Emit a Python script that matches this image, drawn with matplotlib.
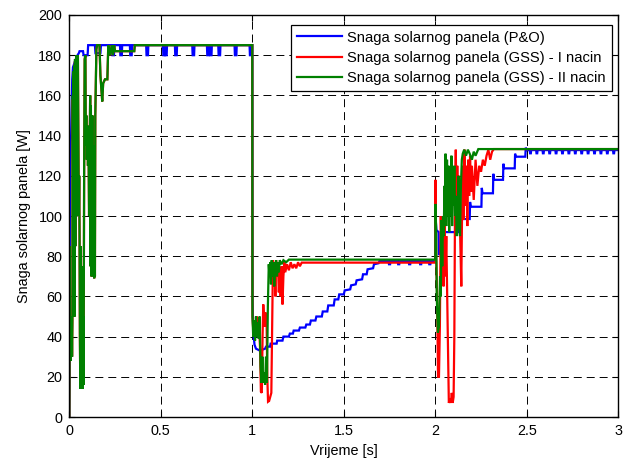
import matplotlib
matplotlib.use("Agg")
import matplotlib.pyplot as plt

plt.rcParams['font.family'] = ['Liberation Sans', 'DejaVu Sans']
plt.rcParams['font.size'] = 10.4

# ---------------- data (time [s], power [W]) ----------------
series_labels = ["Snaga solarnog panela (P&O)",
                 "Snaga solarnog panela (GSS) - I nacin",
                 "Snaga solarnog panela (GSS) - II nacin"]
series_colors = ["#0000ff", "#ff0000", "#008000"]

x_ticks = [0, 0.5, 1, 1.5, 2, 2.5, 3]
x_tick_labels = ["0", "0.5", "1", "1.5", "2", "2.5", "3"]
y_ticks = [0, 20, 40, 60, 80, 100, 120, 140, 160, 180, 200]

po = [
    (0.000, 0), (0.002, 70), (0.004, 125), (0.007, 137), (0.010, 140), (0.013, 155),
    (0.016, 168), (0.020, 174), (0.028, 176), (0.035, 178), (0.045, 180), (0.052, 181),
    (0.056, 182), (0.075, 182), (0.078, 180), (0.100, 180), (0.103, 185), (0.140, 185),
    (0.143, 181), (0.170, 181), (0.173, 185),
    (0.234, 185), (0.236, 180), (0.244, 180), (0.246, 185),
    (0.277, 185), (0.279, 180), (0.287, 180), (0.289, 185),
    (0.331, 185), (0.333, 180), (0.341, 180), (0.343, 185),
    (0.420, 185), (0.422, 180), (0.430, 180), (0.432, 185),
    (0.512, 185), (0.514, 180), (0.520, 180), (0.522, 185),
    (0.524, 185), (0.526, 180), (0.532, 180), (0.534, 185),
    (0.577, 185), (0.579, 180), (0.587, 180), (0.589, 185),
    (0.672, 185), (0.674, 180), (0.682, 180), (0.684, 185),
    (0.752, 185), (0.754, 180), (0.760, 180), (0.762, 185),
    (0.767, 185), (0.769, 180), (0.777, 180), (0.779, 185),
    (0.814, 185), (0.816, 180), (0.824, 180), (0.826, 185),
    (0.903, 185), (0.905, 180), (0.913, 180), (0.915, 185),
    (0.985, 185), (0.987, 180), (0.995, 180), (0.997, 185),
    (1.000, 185), (1.001, 60), (1.005, 43), (1.012, 36), (1.020, 34), (1.042, 33),
    (1.070, 34), (1.075, 35), (1.097, 35), (1.100, 36.5), (1.133, 36.5), (1.136, 38),
    (1.165, 38), (1.170, 40), (1.200, 40), (1.205, 41.5), (1.222, 41.5), (1.226, 43),
    (1.255, 43), (1.260, 44.5), (1.290, 44.5), (1.295, 46), (1.315, 46), (1.320, 48),
    (1.345, 48), (1.350, 50), (1.380, 50), (1.385, 52.5), (1.410, 52.5), (1.415, 55.5),
    (1.445, 55.5), (1.450, 58.5), (1.470, 58.5), (1.475, 61), (1.500, 61), (1.505, 63),
    (1.535, 63.5), (1.540, 65.5), (1.565, 66), (1.570, 68), (1.600, 68.5), (1.605, 71),
    (1.625, 71), (1.630, 73.5), (1.660, 74), (1.665, 76), (1.690, 76.5), (1.695, 77.5),
    (1.745, 77.5), (1.747, 76), (1.753, 76), (1.755, 77.5),
    (1.795, 77.5), (1.797, 76), (1.803, 76), (1.805, 77.5),
    (1.855, 77.5), (1.857, 76), (1.863, 76), (1.865, 77.5),
    (1.915, 77.5), (1.917, 76), (1.923, 76), (1.925, 77.5),
    (1.965, 77.5), (1.967, 76), (1.973, 76), (1.975, 77.5),
    (2.000, 77.5), (2.001, 100), (2.006, 93), (2.018, 92), (2.020, 81), (2.033, 81),
    (2.035, 92), (2.127, 92), (2.130, 98.5), (2.188, 98.5), (2.190, 107), (2.194, 104.6),
    (2.252, 104.6), (2.254, 114), (2.258, 111.3), (2.315, 111.3), (2.317, 121),
    (2.321, 118), (2.370, 118), (2.372, 126), (2.376, 123.7), (2.434, 123.7),
    (2.436, 131), (2.440, 129.5), (2.492, 129.5), (2.494, 134), (2.498, 132.8),
    (2.516, 132.8), (2.518, 131.2), (2.522, 131.2), (2.524, 132.8),
    (2.551, 132.8), (2.553, 131.2), (2.557, 131.2), (2.559, 132.8),
    (2.586, 132.8), (2.588, 131.2), (2.592, 131.2), (2.594, 132.8),
    (2.621, 132.8), (2.623, 131.2), (2.627, 131.2), (2.629, 132.8),
    (2.656, 132.8), (2.658, 131.2), (2.662, 131.2), (2.664, 132.8),
    (2.691, 132.8), (2.693, 131.2), (2.697, 131.2), (2.699, 132.8),
    (2.726, 132.8), (2.728, 131.2), (2.732, 131.2), (2.734, 132.8),
    (2.761, 132.8), (2.763, 131.2), (2.767, 131.2), (2.769, 132.8),
    (2.796, 132.8), (2.798, 131.2), (2.802, 131.2), (2.804, 132.8),
    (2.831, 132.8), (2.833, 131.2), (2.837, 131.2), (2.839, 132.8),
    (2.866, 132.8), (2.868, 131.2), (2.872, 131.2), (2.874, 132.8),
    (2.901, 132.8), (2.903, 131.2), (2.907, 131.2), (2.909, 132.8),
    (2.936, 132.8), (2.938, 131.2), (2.942, 131.2), (2.944, 132.8),
    (2.971, 132.8), (2.973, 131.2), (2.977, 131.2), (2.979, 132.8),
    (3.000, 132.8),
]

gss1 = [
    (0.000, 0), (0.003, 80), (0.004, 30), (0.008, 28), (0.010, 45), (0.013, 50),
    (0.015, 30), (0.017, 48), (0.019, 158), (0.021, 60), (0.023, 170), (0.025, 95),
    (0.027, 175), (0.029, 50), (0.031, 177), (0.033, 85), (0.035, 176), (0.037, 120),
    (0.039, 180), (0.041, 100), (0.043, 178), (0.045, 130), (0.047, 180), (0.050, 135),
    (0.052, 100), (0.054, 120), (0.056, 90), (0.058, 40), (0.060, 14), (0.062, 85),
    (0.064, 14), (0.066, 60), (0.068, 15), (0.070, 75), (0.072, 14), (0.075, 50),
    (0.078, 16), (0.081, 120), (0.084, 178), (0.088, 180), (0.090, 135), (0.093, 150),
    (0.096, 128), (0.099, 145), (0.102, 125), (0.105, 140), (0.108, 100), (0.111, 130),
    (0.114, 160), (0.116, 75), (0.118, 155), (0.120, 70), (0.122, 140), (0.124, 90),
    (0.126, 150), (0.128, 70), (0.130, 120), (0.132, 75), (0.134, 135), (0.136, 69),
    (0.138, 100), (0.140, 70), (0.142, 150), (0.145, 165), (0.148, 183), (0.152, 185),
    (0.165, 185), (0.170, 170), (0.180, 157), (0.185, 166), (0.195, 168), (0.208, 168),
    (0.213, 185), (0.222, 180), (0.232, 185), (0.238, 180), (0.245, 185), (0.250, 182),
    (0.355, 182), (0.358, 185), (1.000, 185),
    (1.001, 50), (1.006, 42), (1.012, 48), (1.018, 40), (1.024, 50), (1.030, 42),
    (1.036, 48), (1.042, 35), (1.047, 12.6), (1.052, 12), (1.056, 40), (1.060, 56),
    (1.066, 45), (1.072, 52), (1.078, 48), (1.082, 20), (1.086, 7.6), (1.092, 8),
    (1.098, 10), (1.104, 12), (1.108, 40), (1.113, 78), (1.118, 65), (1.122, 77),
    (1.126, 60), (1.130, 78), (1.135, 70), (1.140, 76), (1.145, 62), (1.150, 72),
    (1.155, 60), (1.160, 75), (1.165, 56), (1.170, 70), (1.175, 77), (1.180, 72),
    (1.190, 76), (1.200, 73), (1.210, 77), (1.220, 74), (1.230, 76), (1.240, 74),
    (1.250, 77), (1.260, 75), (1.270, 76.8), (2.000, 76.8),
    (2.001, 118), (2.005, 80), (2.010, 60), (2.015, 20), (2.020, 20), (2.025, 45),
    (2.030, 100), (2.035, 75), (2.040, 98), (2.045, 65), (2.050, 100), (2.055, 70),
    (2.060, 90), (2.065, 60), (2.070, 30), (2.074, 7), (2.080, 9), (2.085, 7),
    (2.090, 12), (2.095, 7), (2.100, 10), (2.104, 40), (2.108, 110), (2.112, 133),
    (2.116, 100), (2.120, 125), (2.125, 98), (2.130, 120), (2.136, 90), (2.142, 65),
    (2.146, 100), (2.150, 125), (2.155, 98), (2.160, 133), (2.165, 105), (2.170, 125),
    (2.175, 95), (2.180, 128), (2.185, 110), (2.190, 130), (2.195, 112), (2.200, 125),
    (2.210, 108), (2.220, 128), (2.230, 115), (2.240, 125), (2.250, 122), (2.260, 128),
    (2.270, 125), (2.280, 130), (2.290, 133), (2.300, 128), (2.310, 132), (2.320, 133.3),
    (3.000, 133.3),
]

gss2 = [
    (0.000, 0), (0.003, 85), (0.004, 30), (0.008, 28), (0.010, 45), (0.013, 50),
    (0.015, 30), (0.017, 48), (0.019, 160), (0.021, 60), (0.023, 172), (0.025, 95),
    (0.027, 175), (0.029, 50), (0.031, 178), (0.033, 85), (0.035, 176), (0.037, 120),
    (0.039, 180), (0.041, 100), (0.043, 178), (0.045, 130), (0.047, 180), (0.050, 135),
    (0.052, 100), (0.054, 120), (0.056, 90), (0.058, 40), (0.060, 14), (0.062, 85),
    (0.064, 14), (0.066, 60), (0.068, 15), (0.070, 75), (0.072, 14), (0.075, 50),
    (0.078, 16), (0.081, 120), (0.084, 178), (0.088, 180), (0.090, 135), (0.093, 150),
    (0.096, 128), (0.099, 145), (0.102, 125), (0.105, 140), (0.108, 100), (0.111, 130),
    (0.114, 160), (0.116, 75), (0.118, 155), (0.120, 70), (0.122, 140), (0.124, 90),
    (0.126, 150), (0.128, 70), (0.130, 120), (0.132, 75), (0.134, 135), (0.136, 69),
    (0.138, 100), (0.140, 70), (0.142, 150), (0.145, 165), (0.148, 183), (0.152, 185),
    (0.165, 185), (0.170, 170), (0.180, 157), (0.185, 166), (0.195, 168), (0.208, 168),
    (0.213, 185), (0.222, 180), (0.232, 185), (0.238, 180), (0.245, 185), (0.250, 182),
    (0.355, 182), (0.358, 185), (1.000, 185),
    (1.001, 50), (1.005, 40), (1.010, 48), (1.015, 38), (1.020, 50), (1.025, 40),
    (1.030, 47), (1.035, 39), (1.040, 50), (1.045, 25), (1.050, 17), (1.055, 30),
    (1.060, 17), (1.065, 22), (1.070, 16), (1.075, 30), (1.080, 17), (1.085, 55),
    (1.090, 76), (1.094, 70), (1.098, 77), (1.102, 66), (1.106, 78), (1.110, 70),
    (1.115, 77), (1.120, 65), (1.125, 74), (1.130, 78), (1.135, 70), (1.140, 77),
    (1.145, 72), (1.150, 78), (1.160, 76), (1.170, 78), (1.185, 77), (1.200, 78.3),
    (2.000, 78.3),
    (2.001, 106), (2.004, 95), (2.008, 60), (2.014, 42), (2.020, 45), (2.026, 70),
    (2.030, 60), (2.034, 98), (2.038, 75), (2.042, 100), (2.046, 90), (2.050, 115),
    (2.053, 100), (2.056, 131), (2.060, 95), (2.064, 128), (2.068, 100), (2.072, 125),
    (2.076, 92), (2.080, 120), (2.084, 100), (2.088, 130), (2.092, 95), (2.096, 115),
    (2.100, 105), (2.104, 125), (2.108, 100), (2.112, 110), (2.117, 90), (2.122, 100),
    (2.126, 120), (2.130, 95), (2.135, 90), (2.140, 115), (2.145, 128), (2.150, 131),
    (2.158, 133), (2.168, 130), (2.178, 133), (2.188, 131), (2.200, 128), (2.210, 132),
    (2.220, 130), (2.235, 133.3), (3.000, 133.3),
]

# ---------------- figure ----------------
fig = plt.figure(figsize=(6.35, 4.61), dpi=100)
W, H = 635, 461
ax = fig.add_axes([69.3 / W, 1 - 417 / H, 549 / W, 402 / H])

for data, lab, col in zip([po, gss1, gss2], series_labels, series_colors):
    t = [d[0] for d in data]
    p = [d[1] for d in data]
    ax.plot(t, p, color=col, lw=1.6, label=lab, solid_joinstyle='miter')

ax.set_xlim(0, 3)
ax.set_ylim(0, 200)
ax.set_xticks(x_ticks)
ax.set_xticklabels(x_tick_labels)
ax.set_yticks(y_ticks)
ax.grid(True, color='black', linestyle=(0, (8.2, 5.1)), linewidth=0.7)
ax.set_axisbelow(True)
ax.tick_params(direction='in', top=True, right=True, length=4, width=0.8,
               labelsize=10.4, pad=5)
for s in ax.spines.values():
    s.set_linewidth(1.0)
    s.set_color('black')

ax.set_xlabel("Vrijeme [s]", fontsize=10.4, labelpad=4)
ax.set_ylabel("Snaga solarnog panela [W]", fontsize=10.4, labelpad=5)

leg = ax.legend(loc='upper right', bbox_to_anchor=(0.9885, 0.976), borderaxespad=0,
                fontsize=10.6, handlelength=3.1, handletextpad=0.35, labelspacing=0.42,
                borderpad=0.4, fancybox=False, framealpha=1, edgecolor='black')
leg.get_frame().set_linewidth(0.9)
for line in leg.get_lines():
    line.set_linewidth(1.6)

fig.savefig("out.png", dpi=100)
